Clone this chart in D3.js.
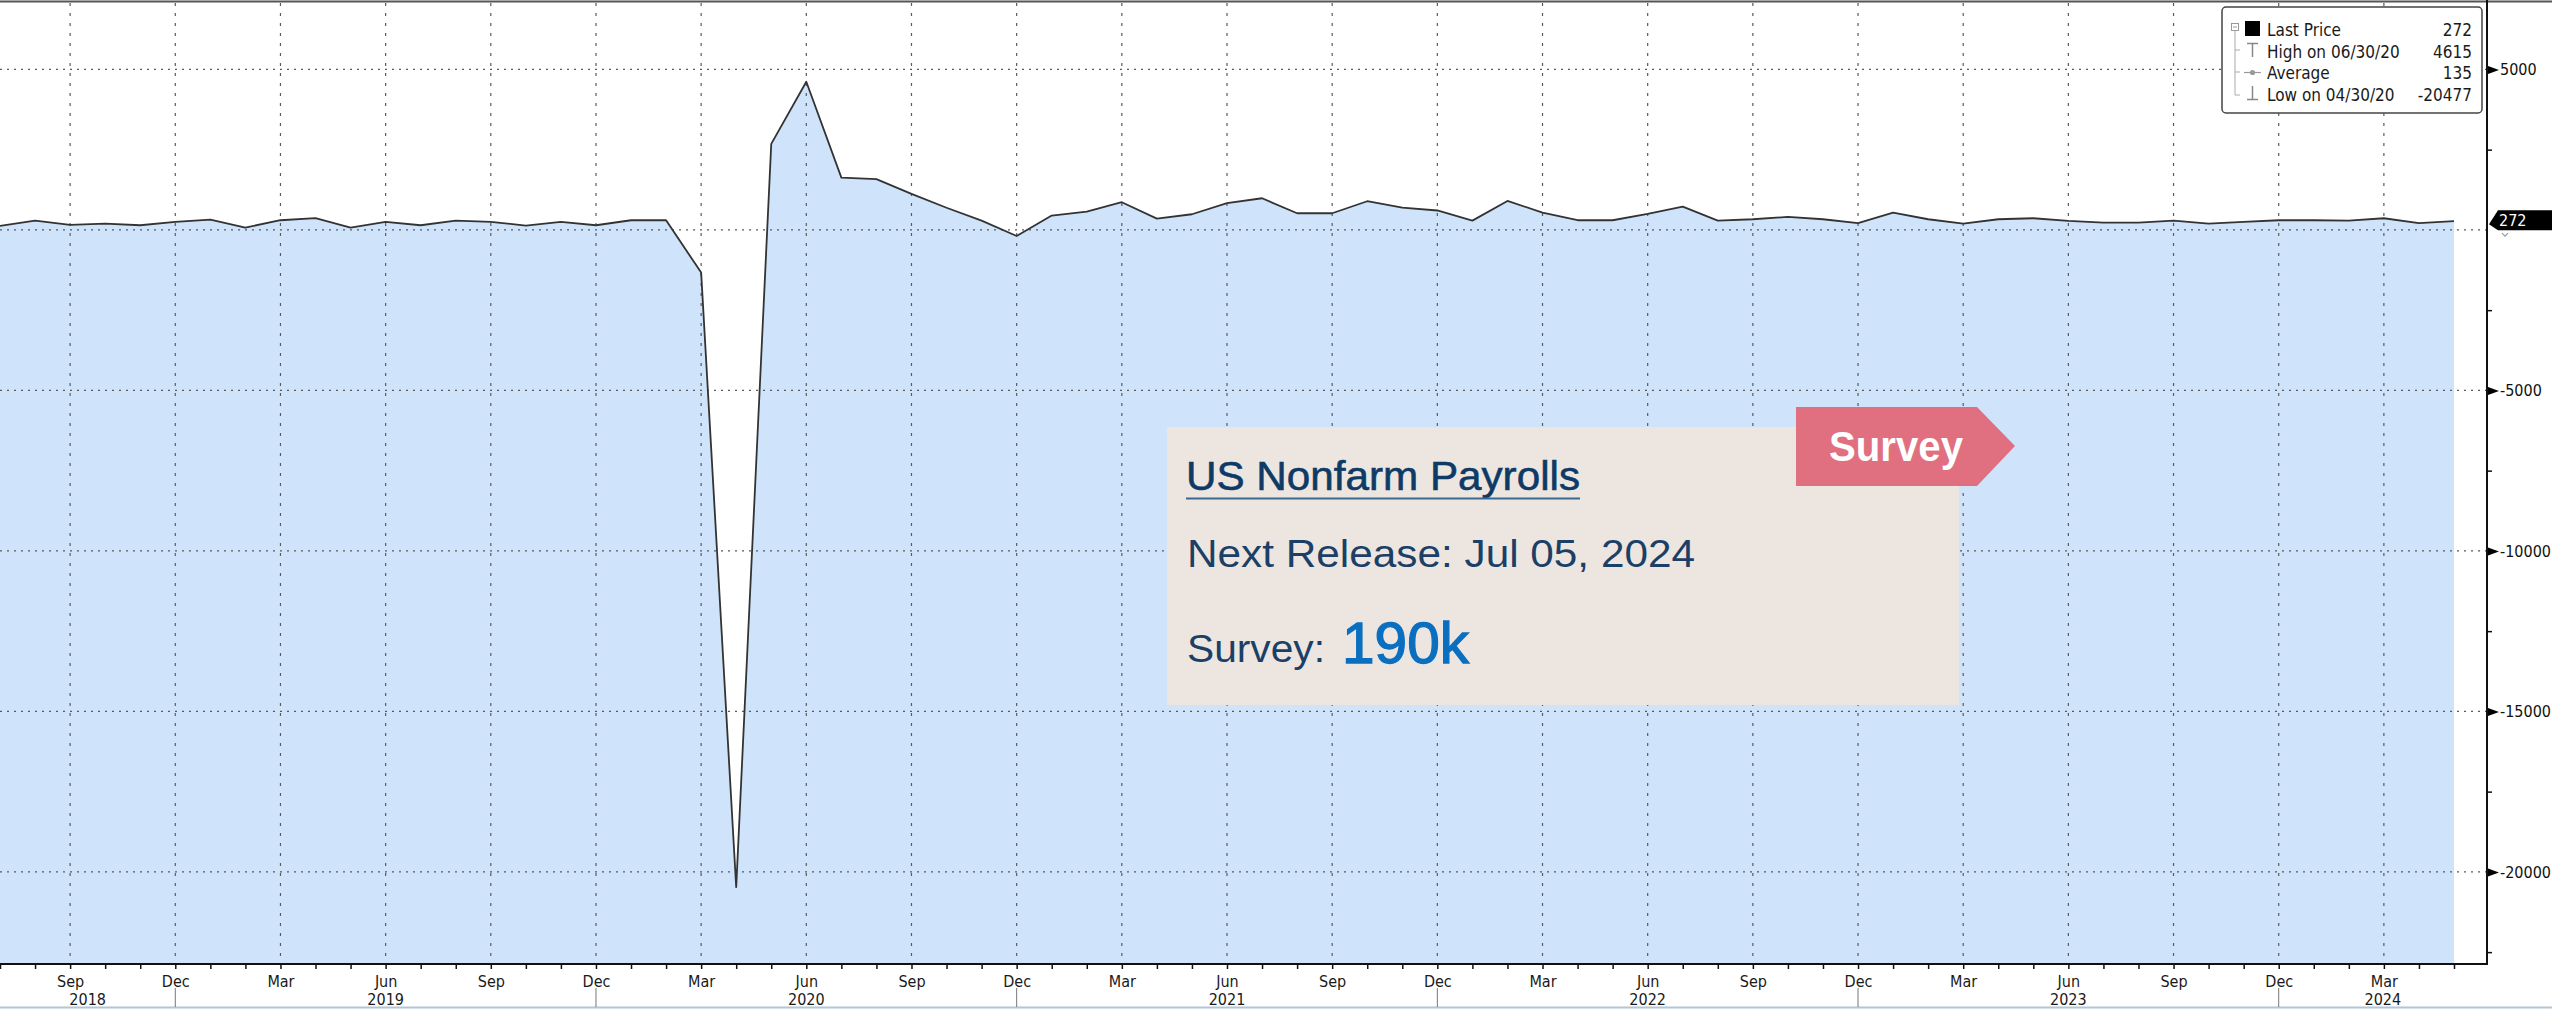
<!DOCTYPE html>
<html>
<head>
<meta charset="utf-8">
<script src="https://cdn.jsdelivr.net/npm/d3@7/dist/d3.min.js"></script>
<style>
  body { margin: 0; background: #fff; overflow: hidden; }
  svg { display: block; }
</style>
</head>
<body>
<div id="chart-area"></div>
<script>
// US nonfarm payrolls, monthly change (thousands), Jul 2018 .. May 2024
var firstMonth = new Date(2018, 6, 1);
var lastMonth = new Date(2024, 4, 1);
var payrolls = [
  125, 291, 156, 197, 145, 249,                                     // 2018 Jul-Dec
  322, 73, 301, 364, 73, 249, 145, 291, 249, 135, 249, 145,         // 2019
  301, 301, -1330, -20477, 2680, 4615, 1630, 1580, 1120, 690, 290, -190, // 2020
  446, 571, 862, 353, 488, 831, 986, 519, 519, 893, 696, 605,       // 2021
  290, 903, 540, 301, 301, 498, 727, 290, 332, 405, 332, 208,       // 2022
  540, 332, 197, 332, 363, 280, 228, 228, 290, 197, 249, 301,       // 2023
  301, 290, 363, 208, 272                                           // 2024 Jan-May
];
var yLabelTicks = [5000, -5000, -10000, -15000, -20000];
var yGridTicks = [5000, 0, -5000, -10000, -15000, -20000];
var yMinorTicks = [2500, -2500, -7500, -12500, -17500, -22500];
var years = ["2018", "2019", "2020", "2021", "2022", "2023", "2024"];
var legendNames = ["Last Price", "High on 06/30/20", "Average", "Low on 04/30/20"];
var legendValues = ["272", "4615", "135", "-20477"];
var lastValue = 272;

var W = 2552, H = 1009;
var axisY = 964, axisX = 2487;
var condensed = "'DejaVu Sans Condensed', 'DejaVu Sans', sans-serif";
var helv = "'Liberation Sans', Arial, sans-serif";

var months = d3.timeMonth.range(firstMonth, d3.timeMonth.offset(lastMonth, 1));

var svg = d3.select("#chart-area")
    .append("svg")
    .attr("width", W)
    .attr("height", H);

// scales: one slot per month, evenly spaced
var x = d3.scaleLinear()
    .domain([0, payrolls.length - 1])
    .range([0, 2454]);

var y = d3.scaleLinear()
    .domain([-22870, 7100])
    .range([axisY, 2]);

var quarterIdx = months.map((m, i) => i).filter(i => months[i].getMonth() % 3 === 2);
var decIdx = quarterIdx.filter(i => months[i].getMonth() === 11);

// filled area under the series
var area = d3.area()
    .x((d, i) => x(i))
    .y0(axisY)
    .y1(d => y(d));

svg.append("path")
    .datum(payrolls)
    .attr("d", area)
    .attr("fill", "#cfe4fa");

// dotted grid
svg.append("g").selectAll("line")
    .data(quarterIdx)
    .enter()
    .append("line")
    .attr("x1", d => x(d)).attr("x2", d => x(d))
    .attr("y1", 3).attr("y2", axisY)
    .attr("stroke", "#5a5a5a")
    .attr("stroke-width", 1.2)
    .attr("stroke-dasharray", "3,7");

svg.append("g").selectAll("line")
    .data(yGridTicks)
    .enter()
    .append("line")
    .attr("x1", 0).attr("x2", axisX)
    .attr("y1", d => y(d)).attr("y2", d => y(d))
    .attr("stroke", "#5a5a5a")
    .attr("stroke-width", 1.2)
    .attr("stroke-dasharray", "2,5");

// series line
var line = d3.line()
    .x((d, i) => x(i))
    .y(d => y(d));

svg.append("path")
    .datum(payrolls)
    .attr("d", line)
    .attr("fill", "none")
    .attr("stroke", "#333")
    .attr("stroke-width", 1.8)
    .attr("stroke-linejoin", "round");

// frame lines
svg.append("line")
    .attr("x1", 0).attr("x2", W).attr("y1", 1.5).attr("y2", 1.5)
    .attr("stroke", "#555").attr("stroke-width", 2);
svg.append("line")
    .attr("x1", 0).attr("x2", axisX + 1).attr("y1", axisY).attr("y2", axisY)
    .attr("stroke", "#111").attr("stroke-width", 2);
svg.append("line")
    .attr("x1", axisX).attr("x2", axisX).attr("y1", 0).attr("y2", axisY + 1)
    .attr("stroke", "#111").attr("stroke-width", 2);
svg.append("line")
    .attr("x1", 0).attr("x2", W).attr("y1", 1007.5).attr("y2", 1007.5)
    .attr("stroke", "#b4c6d6").attr("stroke-width", 2);

// x axis: month ticks, quarter labels
var xMinor = svg.append("g")
    .attr("transform", "translate(0," + axisY + ")")
    .call(d3.axisBottom(x).tickValues(d3.range(payrolls.length)).tickSize(5).tickFormat(""));
xMinor.select(".domain").remove();
xMinor.selectAll("line").attr("stroke", "#111").attr("stroke-width", 1.5);

var fmtMonth = d3.timeFormat("%b");
var xAxis = svg.append("g")
    .attr("transform", "translate(0," + axisY + ")")
    .call(d3.axisBottom(x).tickValues(quarterIdx).tickSize(0).tickPadding(12)
        .tickFormat(i => fmtMonth(months[i])));
xAxis.select(".domain").remove();
xAxis.selectAll("text")
    .attr("font-family", condensed)
    .attr("font-size", 16)
    .attr("fill", "#1a1a1a");

// year separators and year labels
svg.append("g").selectAll("line")
    .data(decIdx)
    .enter()
    .append("line")
    .attr("x1", d => x(d)).attr("x2", d => x(d))
    .attr("y1", 988).attr("y2", 1007)
    .attr("stroke", "#777")
    .attr("stroke-width", 1);

var bounds = [0].concat(decIdx.map(d => x(d))).concat([axisX]);
svg.append("g").selectAll("text")
    .data(years)
    .enter()
    .append("text")
    .attr("x", (d, i) => (bounds[i] + bounds[i + 1]) / 2)
    .attr("y", 1005)
    .attr("text-anchor", "middle")
    .attr("font-family", condensed)
    .attr("font-size", 16)
    .attr("fill", "#1a1a1a")
    .text(d => d);

// right y axis with arrow markers
var yAxis = svg.append("g")
    .attr("transform", "translate(" + axisX + ",0)")
    .call(d3.axisRight(y).tickValues(yLabelTicks).tickSize(0).tickPadding(13)
        .tickFormat(d => String(d)));
yAxis.select(".domain").remove();
yAxis.selectAll("text")
    .attr("font-family", condensed)
    .attr("font-size", 16)
    .attr("fill", "#111");
yAxis.selectAll(".tick")
    .append("path")
    .attr("d", "M1,-4L12,0L1,4Z")
    .attr("fill", "#000");

var yMinor = svg.append("g")
    .attr("transform", "translate(" + axisX + ",0)")
    .call(d3.axisRight(y).tickValues(yMinorTicks).tickSize(5).tickFormat(""));
yMinor.select(".domain").remove();
yMinor.selectAll("line").attr("stroke", "#111").attr("stroke-width", 1.5);

// last price tag
var ty = y(lastValue);
svg.append("path")
    .attr("d", "M" + (axisX + 2) + "," + (ty + 3) + "L" + (axisX + 11) + "," + (ty - 11) +
        "L" + W + "," + (ty - 11) + "L" + W + "," + (ty + 9) + "L" + (axisX + 11) + "," + (ty + 9) + "Z")
    .attr("fill", "#000");
svg.append("text")
    .attr("x", axisX + 12)
    .attr("y", ty + 5)
    .attr("font-family", condensed)
    .attr("font-size", 16)
    .attr("fill", "#fff")
    .text(String(lastValue));
svg.append("path")
    .attr("d", "M" + (axisX + 15) + "," + (ty + 12) + "l3,3l3,-3")
    .attr("fill", "none")
    .attr("stroke", "#999")
    .attr("stroke-width", 1.2);

// legend box
var lg = svg.append("g");
lg.append("rect")
    .attr("x", 2222).attr("y", 7)
    .attr("width", 260).attr("height", 106)
    .attr("rx", 4)
    .attr("fill", "#fff")
    .attr("stroke", "#444")
    .attr("stroke-width", 1.5);

// tree guide
lg.append("rect").attr("x", 2231.5).attr("y", 23.5).attr("width", 7).attr("height", 7)
    .attr("fill", "none").attr("stroke", "#999");
lg.append("line").attr("x1", 2233).attr("x2", 2237).attr("y1", 27).attr("y2", 27).attr("stroke", "#999");
lg.append("line").attr("x1", 2235).attr("x2", 2235).attr("y1", 31).attr("y2", 95).attr("stroke", "#aaa");
[50, 72, 95].forEach(function (yy) {
    lg.append("line").attr("x1", 2235).attr("x2", 2240).attr("y1", yy).attr("y2", yy).attr("stroke", "#aaa");
});

// series symbols
lg.append("rect").attr("x", 2245).attr("y", 21).attr("width", 15).attr("height", 15).attr("fill", "#000");
lg.append("path").attr("d", "M2247,43.5H2258M2252.5,43.5V57").attr("stroke", "#888").attr("stroke-width", 1.5).attr("fill", "none");
lg.append("path").attr("d", "M2244,72.5H2261").attr("stroke", "#999").attr("stroke-width", 1.2);
lg.append("circle").attr("cx", 2252.5).attr("cy", 72.5).attr("r", 2.6).attr("fill", "#999");
lg.append("path").attr("d", "M2252.5,86V99.5M2247,99.5H2258").attr("stroke", "#888").attr("stroke-width", 1.5).attr("fill", "none");

var rowBase = [36, 57.5, 79, 100.5];
lg.selectAll(".lname")
    .data(legendNames)
    .enter()
    .append("text")
    .attr("class", "lname")
    .attr("x", 2267)
    .attr("y", (d, i) => rowBase[i])
    .attr("font-family", condensed)
    .attr("font-size", 17)
    .attr("fill", "#1a1a1a")
    .text(d => d);
lg.selectAll(".lval")
    .data(legendValues)
    .enter()
    .append("text")
    .attr("class", "lval")
    .attr("x", 2472)
    .attr("y", (d, i) => rowBase[i])
    .attr("text-anchor", "end")
    .attr("font-family", condensed)
    .attr("font-size", 17)
    .attr("fill", "#1a1a1a")
    .text(d => d);

// release annotation card
var card = svg.append("g");
card.append("rect")
    .attr("x", 1167).attr("y", 427)
    .attr("width", 792).attr("height", 278)
    .attr("fill", "#ede6e0");

card.append("path")
    .attr("d", "M1796,407H1977L2015,446L1977,486H1796Z")
    .attr("fill", "#e07080");
card.append("text")
    .attr("x", 1829).attr("y", 461)
    .attr("font-family", helv)
    .attr("font-weight", "bold")
    .attr("font-size", 42)
    .attr("textLength", 134)
    .attr("lengthAdjust", "spacingAndGlyphs")
    .attr("fill", "#fff")
    .text("Survey");

card.append("text")
    .attr("x", 1186).attr("y", 490)
    .attr("font-family", helv)
    .attr("font-size", 41)
    .attr("textLength", 394)
    .attr("lengthAdjust", "spacingAndGlyphs")
    .attr("fill", "#0e3a66")
    .attr("stroke", "#0e3a66")
    .attr("stroke-width", 0.6)
    .text("US Nonfarm Payrolls");
card.append("line")
    .attr("x1", 1186).attr("x2", 1580).attr("y1", 498.5).attr("y2", 498.5)
    .attr("stroke", "#3a6891").attr("stroke-width", 2);

card.append("text")
    .attr("x", 1187).attr("y", 567)
    .attr("font-family", helv)
    .attr("font-size", 38)
    .attr("textLength", 508)
    .attr("lengthAdjust", "spacingAndGlyphs")
    .attr("fill", "#1b3f66")
    .text("Next Release: Jul 05, 2024");

card.append("text")
    .attr("x", 1187).attr("y", 662)
    .attr("font-family", helv)
    .attr("font-size", 38)
    .attr("textLength", 138)
    .attr("lengthAdjust", "spacingAndGlyphs")
    .attr("fill", "#1b3f66")
    .text("Survey:");
card.append("text")
    .attr("x", 1342).attr("y", 663)
    .attr("font-family", helv)
    .attr("font-size", 57)
    .attr("textLength", 127)
    .attr("lengthAdjust", "spacingAndGlyphs")
    .attr("fill", "#0b6fc0")
    .attr("stroke", "#0b6fc0")
    .attr("stroke-width", 1.3)
    .text("190k");
</script>
</body>
</html>
